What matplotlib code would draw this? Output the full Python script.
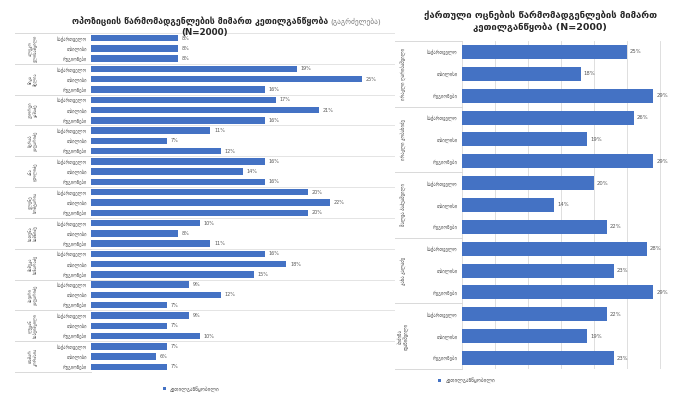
import matplotlib.pyplot as plt
import matplotlib.transforms as mtransforms
import numpy as np

plt.rcParams['font.family'] = ['DejaVu Sans']

BLUE = '#4472C4'
GRID = '#d9d9d9'
TXT = '#595959'

# --- data ---
sub_labels = ['საქართველო', 'თბილისი', 'რეგიონები']
legend_label = 'კეთილგანწყობილი'

left_title = 'ოპოზიციის წარმომადგენლების მიმართ კეთილგანწყობა'
left_title_extra = '(გაგრძელება)'
left_groups = ['ალეკო\nელისაშვილი', 'ნიკა\nმელია', 'გიორგი\nვაშაძე', 'ზურაბ\nჯაფარიძე',
               'ანა\nდოლიძე', 'ელენე\nხოშტარია', 'ხათუნა\nსამნიძე', 'მამუკა\nხაზარაძე',
               'ბადრი\nჯაფარიძე', 'ლევან\nხაბეიშვილი', 'თამარ\nკორძაია']
left_values = [
    [8, 8, 8],
    [19, 25, 16],
    [17, 21, 16],
    [11, 7, 12],
    [16, 14, 16],
    [20, 22, 20],
    [10, 8, 11],
    [16, 18, 15],
    [9, 12, 7],
    [9, 7, 10],
    [7, 6, 7],
]

right_title = 'ქართული ოცნების წარმომადგენლების მიმართ\nკეთილგანწყობა (N=2000)'
right_groups = ['ირაკლი ღარიბაშვილი', 'ირაკლი კობახიძე', 'შალვა პაპუაშვილი',
                'კახა კალაძე', 'ბიძინა\nივანიშვილი']
right_values = [
    [25, 18, 29],
    [26, 19, 29],
    [20, 14, 22],
    [28, 23, 29],
    [22, 19, 23],
]


def draw_panel(ax, groups, values, xmax, bar_h, lab_fs, val_fs, grp_fs,
               grp_x, sep_x0, vgrid):
    vals = np.array(values, dtype=float).ravel()
    n = len(vals)
    y = np.arange(n)
    bars = ax.barh(y, vals / 100, height=bar_h, color=BLUE, label=legend_label, zorder=3)
    ax.set_xlim(0, xmax)
    ax.set_ylim(n - 0.5, -0.5)
    ax.set_yticks(y)
    ax.set_yticklabels(sub_labels * len(groups), fontsize=lab_fs, color=TXT)
    ax.tick_params(axis='y', length=0, pad=3)
    ax.tick_params(axis='x', length=0, labelbottom=False)
    for s in ax.spines.values():
        s.set_visible(False)
    if vgrid:
        ax.set_xticks(np.arange(0, xmax + 0.001, 0.05))
        ax.grid(axis='x', color=GRID, linewidth=0.6, zorder=0)
    else:
        ax.set_xticks([])
    for b, v in zip(bars, vals):
        ax.text(b.get_width() + xmax * 0.012, b.get_y() + b.get_height() / 2,
                f'{int(v)}%', fontsize=val_fs, color=TXT, va='center', ha='left')

    trans = mtransforms.blended_transform_factory(ax.transAxes, ax.transData)
    k = len(sub_labels)
    for i, g in enumerate(groups):
        yc = i * k + (k - 1) / 2
        ax.text(grp_x, yc, g, transform=trans, rotation=90, fontsize=grp_fs,
                color=TXT, ha='center', va='center', linespacing=1.1)
        if i > 0:
            ax.plot([sep_x0, 0], [i * k - 0.5] * 2, transform=trans, color=GRID,
                    linewidth=0.7, clip_on=False)
    ax.plot([sep_x0, 0], [-0.5] * 2, transform=trans, color=GRID, linewidth=0.7, clip_on=False)
    ax.plot([sep_x0, 0], [n - 0.5] * 2, transform=trans, color=GRID, linewidth=0.7, clip_on=False)


fig = plt.figure(figsize=(7, 3.93), dpi=100)

# left panel
axl = fig.add_axes([91 / 700, 1 - 372 / 393, 304 / 700, 339 / 393])
draw_panel(axl, left_groups, left_values, 0.28, 0.62, 3.3, 3.5, 3.2,
           -0.19, -0.25, False)
for i in range(1, len(left_groups)):
    axl.axhline(i * 3 - 0.5, color=GRID, linewidth=0.5, zorder=1)
axl.axhline(-0.5, color=GRID, linewidth=0.5, zorder=1)
axl.axhline(len(left_groups) * 3 - 0.5, color=GRID, linewidth=0.5, zorder=1)
fig.text(200 / 700, 1 - 21 / 393, left_title, fontsize=6.3, fontweight='bold',
         color='#262626', ha='center', va='center')
fig.text(330 / 700, 1 - 21 / 393, left_title_extra, fontsize=5.3,
         color='#7f7f7f', ha='left', va='center')
fig.text(205 / 700, 1 - 32 / 393, '(N=2000)', fontsize=6.3, fontweight='bold',
         color='#262626', ha='center', va='center')
axl.legend(loc='center', bbox_to_anchor=(0.33, -0.05), frameon=False,
           fontsize=3.8, handlelength=0.6, handleheight=0.6, labelcolor=TXT)

# right panel
axr = fig.add_axes([462 / 700, 1 - 369 / 393, 231 / 700, 328 / 393])
draw_panel(axr, right_groups, right_values, 0.35, 0.64, 3.4, 3.8, 3.4,
           -0.255, -0.29, True)
fig.text(540 / 700, 1 - 21 / 393, right_title, fontsize=6.8, fontweight='bold',
         color='#262626', ha='center', va='center', linespacing=1.3)
axr.legend(loc='center', bbox_to_anchor=(0.02, -0.035), frameon=False,
           fontsize=3.8, handlelength=0.6, handleheight=0.6, labelcolor=TXT)

fig.savefig('out.png', dpi=100)
